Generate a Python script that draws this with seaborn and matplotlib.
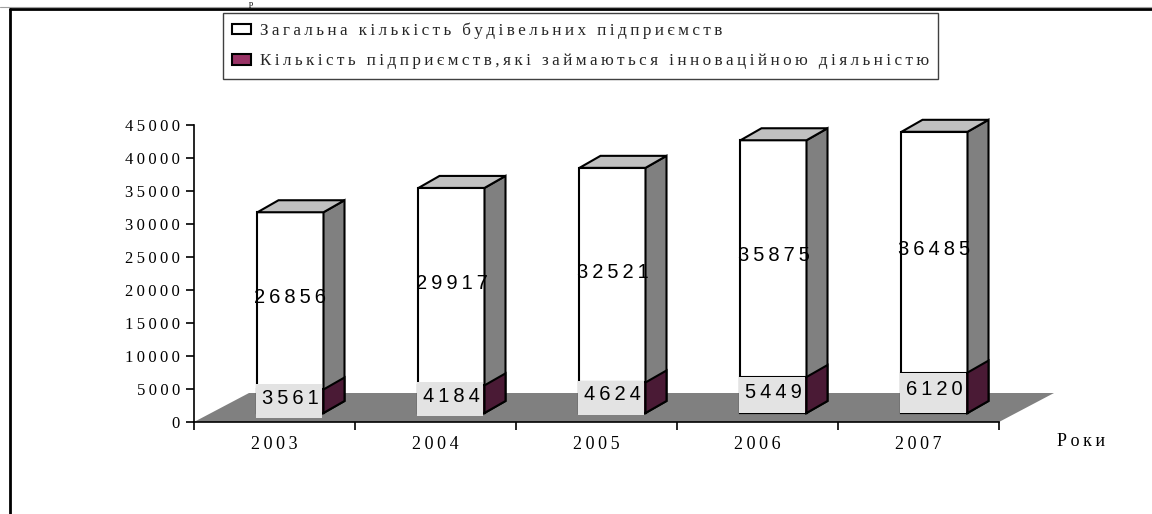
import matplotlib
matplotlib.use("Agg")
import matplotlib.pyplot as plt
import seaborn as sns
import pandas as pd
from matplotlib.patches import Polygon, Patch, Rectangle
from matplotlib.lines import Line2D
from matplotlib.transforms import ScaledTranslation
from matplotlib.ticker import FixedLocator, FuncFormatter

# ---- data -----------------------------------------------------------------
years = ["2003", "2004", "2005", "2006", "2007"]
total_enterprises = [26856, 29917, 32521, 35875, 36485]
innovative_enterprises = [3561, 4184, 4624, 5449, 6120]
y_ticks = [0, 5000, 10000, 15000, 20000, 25000, 30000, 35000, 40000, 45000]
legend_labels = [
    "Загальна кількість будівельних підприємств",
    "Кількість підприємств,які займаються інноваційною діяльністю",
]
x_axis_label = "Роки"
title_tail = "р"

# ---- style ----------------------------------------------------------------
W, H, DPI = 1152, 514, 100
WHITE_SIDE = "#808080"
WHITE_TOP = "#c0c0c0"
PURPLE = "#993366"
PURPLE_SIDE = "#4a1a35"
FLOOR = "#808080"
LABEL_BOX = "#e3e3e3"

sns.set_theme(style="white")
plt.rcParams["font.family"] = ["Liberation Serif", "DejaVu Serif"]
SANS = ["Liberation Sans", "DejaVu Sans"]

THIN = "\u2009"


def spaced(s):
    """Letter-spaced version of a string (thin space between glyphs)."""
    return THIN.join(s)


fig = plt.figure(figsize=(W / DPI, H / DPI), dpi=DPI)
fig.patch.set_facecolor("white")

# plot area in pixel units
AX_L, AX_R, AX_T, AX_B = 194, 999, 125, 422
ax = fig.add_axes([AX_L / W, 1 - AX_B / H, (AX_R - AX_L) / W, (AX_B - AX_T) / H])
ax.patch.set_alpha(0)

Y_MAX = 45000
px_per_cat = (AX_R - AX_L) / len(years)
px_per_unit = (AX_B - AX_T) / Y_MAX

df = pd.DataFrame({
    "year": years,
    "total": total_enterprises,
    "innov": innovative_enterprises,
})
df["stack_top"] = df["innov"] + df["total"]

BAR_W = 0.41
sns.barplot(data=df, x="year", y="stack_top", color="white", saturation=1,
            edgecolor="black", linewidth=1.5, width=BAR_W, errorbar=None,
            ax=ax, zorder=3)
n_white = len(ax.patches)
sns.barplot(data=df, x="year", y="innov", color=PURPLE, saturation=1,
            edgecolor="black", linewidth=1.5, width=BAR_W, errorbar=None,
            ax=ax, zorder=3)
ax.set_xlim(-0.5, len(years) - 0.5)
ax.set_ylim(0, Y_MAX)

# pseudo-3D: bars stand a little behind the front edge of the floor
FRONT_DX, FRONT_DY = 16, 9        # px
DEPTH_DX, DEPTH_DY = 21, 12       # px
FLOOR_DX, FLOOR_DY = 55, 29       # px
bar_tf = ax.transData + ScaledTranslation(FRONT_DX / DPI, FRONT_DY / DPI,
                                          fig.dpi_scale_trans)
ddx = DEPTH_DX / px_per_cat
ddy = DEPTH_DY / px_per_unit

# floor
fdx = FLOOR_DX / px_per_cat
fdy = FLOOR_DY / px_per_unit
floor = Polygon([(-0.5, 0), (len(years) - 0.5, 0),
                 (len(years) - 0.5 + fdx, fdy), (-0.5 + fdx, fdy)],
                closed=True, facecolor=FLOOR, edgecolor="none",
                zorder=1, clip_on=False)
ax.add_patch(floor)

patches = list(ax.patches)
white_bars = patches[:n_white]
purple_bars = patches[n_white:n_white + len(years)]

for group, side_col in ((white_bars, WHITE_SIDE), (purple_bars, PURPLE_SIDE)):
    for p in group:
        p.set_transform(bar_tf)
        p.set_clip_on(False)
        x0, w = p.get_x(), p.get_width()
        y0, y1 = p.get_y(), p.get_y() + p.get_height()
        xr = x0 + w
        side = Polygon([(xr, y0), (xr + ddx, y0 + ddy), (xr + ddx, y1 + ddy), (xr, y1)],
                       closed=True, facecolor=side_col, edgecolor="black",
                       linewidth=1.5, transform=bar_tf, zorder=3.5, clip_on=False)
        ax.add_patch(side)
        if side_col == WHITE_SIDE:
            top = Polygon([(x0, y1), (xr, y1), (xr + ddx, y1 + ddy), (x0 + ddx, y1 + ddy)],
                          closed=True, facecolor=WHITE_TOP, edgecolor="black",
                          linewidth=1.5, transform=bar_tf, zorder=3.5, clip_on=False)
            ax.add_patch(top)

# value labels
label_tf = bar_tf + ScaledTranslation(0, 3 / DPI, fig.dpi_scale_trans)
BOX_MIN_H = 34 / px_per_unit
for p, tot, inn in zip(white_bars, total_enterprises, innovative_enterprises):
    x0, w = p.get_x(), p.get_width()
    cx = x0 + w / 2
    ax.text(cx, inn + tot / 2, spaced(str(tot)), transform=label_tf,
            ha="center", va="center", fontsize=14.5, family=SANS,
            color="black", zorder=6, clip_on=False)
    box_h = max(inn, BOX_MIN_H)
    ax.add_patch(Rectangle((x0 - 0.01, inn / 2 - box_h / 2), w, box_h,
                           facecolor=LABEL_BOX, edgecolor="none",
                           transform=bar_tf, zorder=5, clip_on=False))
    ax.text(cx, inn / 2, spaced(str(inn)), transform=label_tf,
            ha="center", va="center", fontsize=14.5, family=SANS,
            color="black", zorder=6, clip_on=False)

# axes, ticks and tick labels
sns.despine(ax=ax)
for s in ("left", "bottom"):
    ax.spines[s].set_color("black")
    ax.spines[s].set_linewidth(1.2)
ax.set_xlabel("")
ax.set_ylabel("")
ax.yaxis.set_major_locator(FixedLocator(y_ticks))
ax.yaxis.set_major_formatter(FuncFormatter(lambda v, _: spaced(f"{int(v)}")))
ax.tick_params(axis="y", which="major", length=6, width=1.2, color="black",
               direction="out", pad=4, labelsize=12, labelcolor="black", left=True)
ax.set_xticks(range(len(years)))
ax.set_xticklabels([spaced(y) for y in years])
ax.tick_params(axis="x", which="major", length=0, pad=10, labelsize=13,
               labelcolor="black")
ax.xaxis.set_minor_locator(FixedLocator([i - 0.5 for i in range(len(years) + 1)]))
ax.tick_params(axis="x", which="minor", length=6, width=1.2, color="black",
               direction="out", bottom=True)

fig.text(1057 / W, 1 - 441 / H, spaced(x_axis_label), ha="left", va="center",
         fontsize=13, color="black")

# legend
handles = [Patch(facecolor="white", edgecolor="black", linewidth=1.5),
           Patch(facecolor=PURPLE, edgecolor="black", linewidth=1.5)]
leg = fig.legend(handles=handles, labels=[spaced(t) for t in legend_labels],
                 loc="upper left", bbox_to_anchor=(223 / W, 1 - 13 / H),
                 frameon=True, fancybox=False, framealpha=1, edgecolor="#404040",
                 fontsize=12.3, handlelength=1.1, handleheight=0.55,
                 handletextpad=0.5, borderpad=0.55, labelspacing=0.85,
                 borderaxespad=0)
leg.get_frame().set_linewidth(1.0)

# outer frame (open to the right and bottom) and the title remnant above it
fig.add_artist(Line2D([0, 1], [1 - 7 / H, 1 - 7 / H], transform=fig.transFigure,
                      color="#a0a0a0", linewidth=0.8))
fig.add_artist(Line2D([10 / W, 1], [1 - 9 / H, 1 - 9 / H], transform=fig.transFigure,
                      color="black", linewidth=2))
fig.add_artist(Line2D([10 / W, 10 / W], [0, 1 - 9 / H], transform=fig.transFigure,
                      color="black", linewidth=2))
fig.text(249 / W, 1 - 0.5 / H, title_tail, ha="left", va="top", fontsize=6,
         color="black")

fig.savefig("out.png", dpi=DPI)
